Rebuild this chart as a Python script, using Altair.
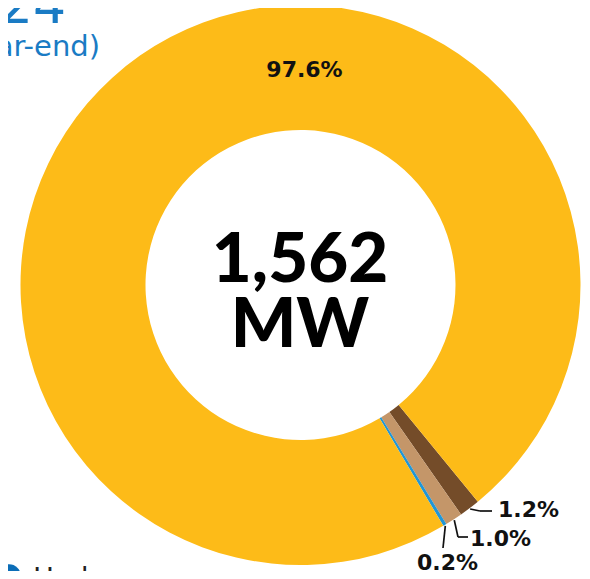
import math
import altair as alt
import pandas as pd

# ---- data ----
categories = ["Wind", "Biomass", "Hydro", "Solar"]
shares = [1.2, 1.0, 0.2, 97.6]
labels = ["1.2%", "1.0%", "0.2%", "97.6%"]
colors = ["#744C29", "#C49669", "#2196D6", "#FDBB18"]
total_text = ["1,562", "MW"]
title_lines = ["Total Capacity 2024", "(as of year-end)"]
legend_items = ["Hydro"]

# ---- layout (chart pixel space; page offset 8px) ----
W, H = 574, 563
CX, CY = 292.5, 277.0
R_OUT, R_IN = 280, 155
START_DEG = 140.7

df = pd.DataFrame({"cat": categories, "value": shares, "label": labels,
                   "order": list(range(len(categories)))})

a0 = math.radians(START_DEG)
arcs = alt.Chart(df).mark_arc(outerRadius=R_OUT, innerRadius=R_IN).encode(
    theta=alt.Theta("value:Q", stack=True,
                    scale=alt.Scale(domain=[0, sum(shares)], range=[a0, a0 + 2 * math.pi])),
    color=alt.Color("cat:N", scale=alt.Scale(domain=categories, range=colors), legend=None),
    order=alt.Order("order:Q"),
    x=alt.value(CX), y=alt.value(CY),
)

# leader-line start points from slice mid-angles
cum = 0.0
mids = []
for v in shares:
    mids.append(START_DEG + (cum + v / 2) * 3.6)
    cum += v

def outer_pt(deg, r=R_OUT + 1):
    t = math.radians(deg)
    return CX + r * math.sin(t), CY - r * math.cos(t)

p0 = outer_pt(mids[0]); p1 = outer_pt(mids[1]); p2 = outer_pt(mids[2])
segs = pd.DataFrame([
    {"x": p0[0], "y": p0[1], "x2": 472, "y2": 503},
    {"x": 472, "y": 503, "x2": 484, "y2": 503},
    {"x": p1[0], "y": p1[1], "x2": 450, "y2": 529},
    {"x": 450, "y": 529, "x2": 460, "y2": 529},
    {"x": p2[0], "y": p2[1], "x2": 435, "y2": 540},
])
leaders = alt.Chart(segs).mark_rule(color="#111111", strokeWidth=1.7).encode(
    x=alt.X("x:Q", scale=None), y=alt.Y("y:Q", scale=None),
    x2="x2:Q", y2="y2:Q",
)

lab_pos = pd.DataFrame({
    "label": labels,
    "x": [490, 462, 439.5, 296.5],
    "y": [509, 538, 562, 69],
    "align": ["left", "left", "center", "center"],
})
lab_left = alt.Chart(lab_pos[lab_pos["align"] == "left"]).mark_text(
    font="DejaVu Sans", fontWeight="bold", fontSize=22, align="left", baseline="alphabetic", color="#111111"
).encode(x=alt.X("x:Q", scale=None), y=alt.Y("y:Q", scale=None), text="label:N")
lab_center = alt.Chart(lab_pos[lab_pos["align"] == "center"]).mark_text(
    font="DejaVu Sans", fontWeight="bold", fontSize=22, align="center", baseline="alphabetic", color="#111111"
).encode(x=alt.X("x:Q", scale=None), y=alt.Y("y:Q", scale=None), text="label:N")

center = alt.Chart(pd.DataFrame({"t": total_text, "y": [274, 339]})).mark_text(
    font="Lato", fontWeight=900, fontSize=69, align="center", baseline="alphabetic", color="#000000"
).encode(x=alt.value(CX - 0.5), y=alt.Y("y:Q", scale=None), text="t:N")

title1 = alt.Chart(pd.DataFrame({"t": [title_lines[0]]})).mark_text(
    font="DejaVu Sans", fontSize=52, align="right", baseline="alphabetic", color="#1A7BC4"
).encode(x=alt.value(58), y=alt.value(15), text="t:N")
title2 = alt.Chart(pd.DataFrame({"t": [title_lines[1]]})).mark_text(
    font="DejaVu Sans", fontSize=29, align="right", baseline="alphabetic", color="#1A7BC4"
).encode(x=alt.value(92), y=alt.value(48), text="t:N")

legend_dot = alt.Chart(pd.DataFrame({"c": legend_items})).mark_circle(size=560, opacity=1, color="#0B6DB7").encode(
    x=alt.value(1), y=alt.value(568))
legend_txt = alt.Chart(pd.DataFrame({"c": legend_items})).mark_text(
    font="DejaVu Sans", fontSize=28, align="left", baseline="alphabetic", color="#222222"
).encode(x=alt.value(25), y=alt.value(580), text="c:N")

chart = alt.layer(arcs, leaders, lab_left, lab_center, center, title1, title2, legend_dot, legend_txt).properties(
    width=W, height=H, autosize=alt.AutoSizeParams(type="none"), padding=0
).configure_view(stroke=None)

chart.save("out.html", embed_options={"renderer": "svg", "actions": False})
